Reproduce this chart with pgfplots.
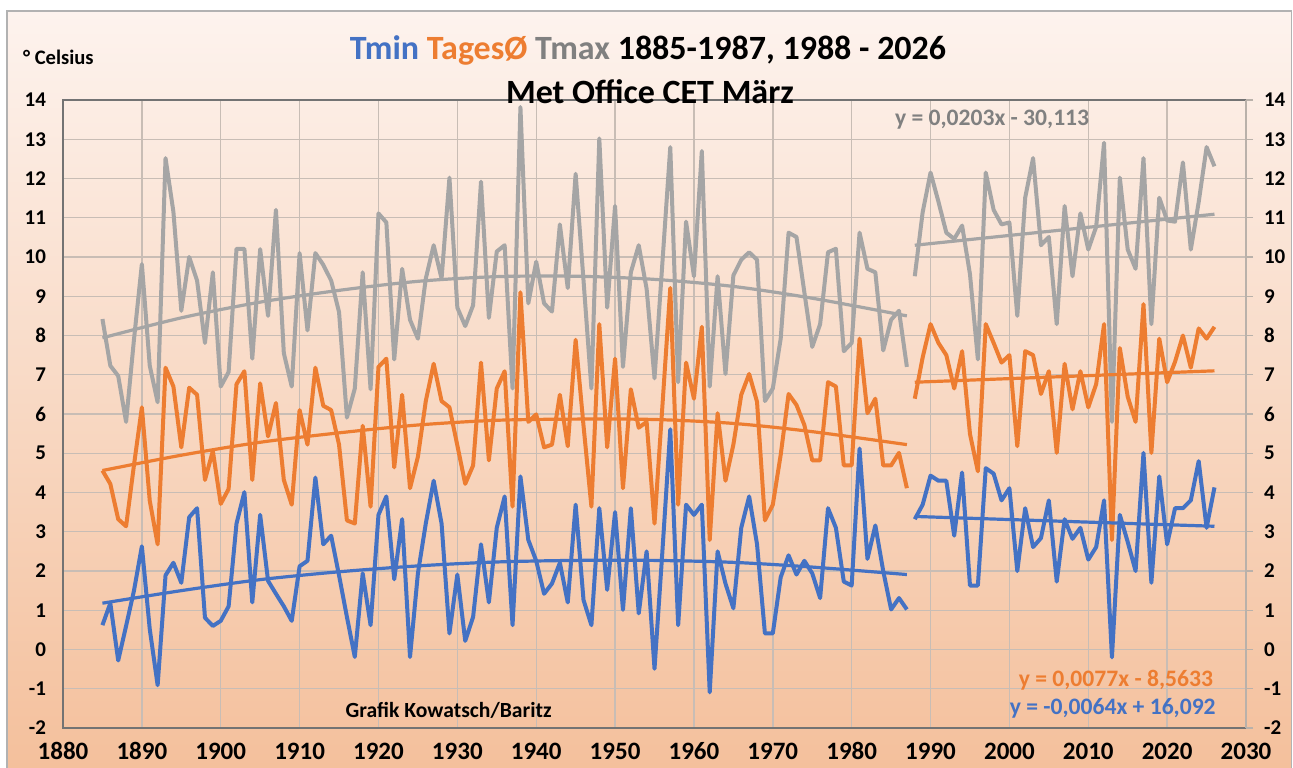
\documentclass[border=0pt]{standalone}
\usepackage{pgfplots}
\pgfplotsset{compat=1.18}
\usepackage{pgfplotstable}
\usepackage{fontspec}
\setmainfont{Carlito}
\definecolor{cblue}{HTML}{4472C4}
\definecolor{corange}{HTML}{ED7D31}
\definecolor{cgray}{HTML}{A5A5A5}
\definecolor{cgraytxt}{HTML}{808080}
\definecolor{bgtop}{HTML}{FDF3EE}
\definecolor{bgbot}{HTML}{F4C09C}
\definecolor{gridc}{HTML}{C8BDB5}

\pgfplotstableread{
year tmin tmean tmax
1885 0.62 4.56 8.42
1886 1.18 4.22 7.23
1887 -0.28 3.32 6.97
1888 0.6 3.14 5.80
1889 1.5 4.7 7.9
1890 2.63 6.17 9.82
1891 0.52 3.79 7.23
1892 -0.91 2.68 6.3
1893 1.89 7.18 12.52
1894 2.21 6.70 11.15
1895 1.70 5.15 8.63
1896 3.37 6.67 10.0
1897 3.60 6.49 9.4
1898 0.81 4.32 7.81
1899 0.60 5.06 9.61
1900 0.73 3.71 6.70
1901 1.10 4.09 7.07
1902 3.21 6.76 10.21
1903 4.01 7.09 10.21
1904 1.20 4.32 7.41
1905 3.43 6.78 10.2
1906 1.75 5.43 8.5
1907 1.42 6.28 11.2
1908 1.10 4.32 7.55
1909 0.73 3.69 6.70
1910 2.12 6.10 10.1
1911 2.26 5.22 8.13
1912 4.38 7.18 10.1
1913 2.68 6.21 9.8
1914 2.90 6.10 9.4
1915 1.89 5.22 8.6
1916 0.83 3.29 5.91
1917 -0.19 3.21 6.65
1918 1.94 5.70 9.61
1919 0.62 3.64 6.63
1920 3.43 7.20 11.11
1921 3.90 7.41 10.88
1922 1.79 4.64 7.39
1923 3.32 6.49 9.70
1924 -0.19 4.11 8.40
1925 1.94 4.91 7.92
1926 3.21 6.33 9.45
1927 4.30 7.28 10.3
1928 3.21 6.33 9.45
1929 0.41 6.17 12.02
1930 1.91 5.2 8.71
1931 0.22 4.22 8.24
1932 0.83 4.69 8.77
1933 2.68 7.31 11.92
1934 1.20 4.82 8.45
1935 3.10 6.65 10.14
1936 3.90 7.09 10.30
1937 0.62 3.64 6.65
1938 4.41 9.10 13.82
1939 2.79 5.80 8.82
1940 2.26 5.99 9.88
1941 1.42 5.15 8.82
1942 1.68 5.22 8.61
1943 2.21 6.49 10.83
1944 1.20 5.18 9.21
1945 3.69 7.89 12.12
1946 1.26 5.7 9.4
1947 0.62 3.64 6.65
1948 3.60 8.29 13.02
1949 1.52 5.15 8.71
1950 3.50 7.41 11.30
1951 1.01 4.11 7.2
1952 3.60 6.63 9.61
1953 0.92 5.65 10.30
1954 2.50 5.80 9.19
1955 -0.49 3.21 6.91
1956 2.5 6.2 9.85
1957 5.61 9.21 12.80
1958 0.62 3.69 6.81
1959 3.69 7.31 10.90
1960 3.43 6.39 9.51
1961 3.69 8.22 12.70
1962 -1.09 2.79 6.70
1963 2.50 6.02 9.51
1964 1.68 4.30 7.02
1965 1.05 5.22 9.53
1966 3.10 6.49 9.93
1967 3.90 7.02 10.12
1968 2.68 6.31 9.93
1969 0.41 3.29 6.33
1970 0.41 3.69 6.65
1971 1.84 4.96 7.92
1972 2.40 6.51 10.62
1973 1.91 6.23 10.51
1974 2.26 5.72 9.1
1975 1.94 4.82 7.71
1976 1.31 4.82 8.29
1977 3.60 6.81 10.12
1978 3.10 6.70 10.21
1979 1.73 4.69 7.60
1980 1.63 4.69 7.81
1981 5.12 7.92 10.62
1982 2.31 6.02 9.70
1983 3.16 6.39 9.61
1984 2.00 4.69 7.62
1985 1.02 4.69 8.40
1986 1.31 5.01 8.63
1987 1.02 4.11 7.20
}\tableA

\pgfplotstableread{
year tmin tmean tmax
1988 3.32 6.39 9.51
1989 3.69 7.44 11.14
1990 4.43 8.29 12.15
1991 4.30 7.81 11.41
1992 4.30 7.50 10.62
1993 2.90 6.65 10.46
1994 4.51 7.60 10.80
1995 1.63 5.49 9.56
1996 1.63 4.54 7.39
1997 4.62 8.29 12.15
1998 4.48 7.81 11.20
1999 3.80 7.31 10.83
2000 4.11 7.50 10.88
2001 2.00 5.18 8.50
2002 3.60 7.60 11.51
2003 2.61 7.50 12.52
2004 2.84 6.51 10.30
2005 3.80 7.09 10.51
2006 1.73 5.01 8.29
2007 3.32 7.28 11.30
2008 2.82 6.12 9.51
2009 3.10 7.09 11.11
2010 2.29 6.17 10.19
2011 2.61 6.76 10.77
2012 3.80 8.29 12.91
2013 -0.20 2.79 5.80
2014 3.43 7.68 12.02
2015 2.74 6.44 10.19
2016 2.00 5.80 9.70
2017 5.01 8.80 12.52
2018 1.70 5.01 8.29
2019 4.41 7.92 11.51
2020 2.68 6.81 10.93
2021 3.60 7.33 10.90
2022 3.60 8.00 12.41
2023 3.80 7.18 10.19
2024 4.80 8.18 11.4
2025 3.10 7.92 12.80
2026 4.13 8.22 12.31
}\tableB

\pgfplotstableread{
year tmin tmean tmax
1885 1.18 4.56 7.94
1895 1.50 4.95 8.45
1905 1.78 5.28 8.85
1915 1.98 5.52 9.15
1925 2.13 5.72 9.38
1935 2.23 5.84 9.50
1945 2.27 5.87 9.51
1955 2.27 5.86 9.43
1965 2.22 5.76 9.25
1975 2.10 5.55 8.95
1987 1.91 5.22 8.50
}\trendA

\pgfplotstableread{
year tmin tmean tmax
1988 3.39 6.81 10.30
2026 3.14 7.10 11.09
}\trendB

\begin{document}
\begin{tikzpicture}[x=1pt,y=1pt]
\fill[white] (0,0) rectangle (646.5,383.5);
\shade[top color=bgtop, bottom color=bgbot] (3.5,0) rectangle (645.8,378);
\draw[gray!60, line width=0.6pt] (3.5,-1) -- (3.5,378) -- (645.8,378) -- (645.8,-1);

\begin{axis}[
  at={(31.5pt,19.5pt)}, anchor=south west,
  scale only axis, width=591.5pt, height=314pt,
  xmin=1880, xmax=2030, ymin=-2, ymax=14,
  xtick={1880,1890,...,2030}, ytick={-2,-1,...,14},
  grid=major, major grid style={gridc, line width=0.7pt},
  axis line style={black!55, line width=0.7pt},
  tick style={draw=none},
  /pgf/number format/assume math mode=true,
  /pgf/number format/1000 sep={},
  xticklabel style={font=\bfseries\fontsize{12.5}{14}\selectfont, yshift=-3.8pt},
  yticklabel style={font=\bfseries\fontsize{10.5}{12}\selectfont, xshift=-5pt},
  clip=false,
]
\addplot[cgray, line width=2pt, line join=round] table[x=year,y=tmax] {\tableA};
\addplot[corange, line width=2pt, line join=round] table[x=year,y=tmean] {\tableA};
\addplot[cblue, line width=2pt, line join=round] table[x=year,y=tmin] {\tableA};
\addplot[cgray, line width=2pt, line join=round] table[x=year,y=tmax] {\tableB};
\addplot[corange, line width=2pt, line join=round] table[x=year,y=tmean] {\tableB};
\addplot[cblue, line width=2pt, line join=round] table[x=year,y=tmin] {\tableB};
\addplot[cgray, line width=1.6pt, smooth] table[x=year,y=tmax] {\trendA};
\addplot[corange, line width=1.6pt, smooth] table[x=year,y=tmean] {\trendA};
\addplot[cblue, line width=1.6pt, smooth] table[x=year,y=tmin] {\trendA};
\addplot[cgray, line width=1.6pt] table[x=year,y=tmax] {\trendB};
\addplot[corange, line width=1.6pt] table[x=year,y=tmean] {\trendB};
\addplot[cblue, line width=1.6pt] table[x=year,y=tmin] {\trendB};
\node[text=cgraytxt, font=\bfseries\fontsize{11.8}{13}\selectfont] at (axis cs:1997.8,13.49) {y = 0,0203x - 30,113};
\node[text=corange, font=\bfseries\fontsize{11.8}{13}\selectfont] at (axis cs:2013.5,-0.78) {y = 0,0077x - 8,5633};
\node[text=cblue, font=\bfseries\fontsize{11.8}{13}\selectfont] at (axis cs:2013.1,-1.49) {y = -0,0064x + 16,092};
\node[text=black, font=\bfseries\fontsize{10.8}{12}\selectfont] at (axis cs:1928.9,-1.54) {Grafik Kowatsch/Baritz};
\end{axis}

\begin{axis}[
  at={(31.5pt,19.5pt)}, anchor=south west,
  scale only axis, width=591.5pt, height=314pt,
  xmin=1880, xmax=2030, ymin=-2, ymax=14,
  axis x line=none, axis y line*=right,
  ytick={-2,-1,...,14},
  axis line style={gridc!80!gray, line width=0.7pt},
  tick align=outside, major tick length=3.5pt,
  tick style={gridc!80!gray, line width=0.7pt},
  /pgf/number format/assume math mode=true,
  yticklabel style={font=\bfseries\fontsize{10.5}{12}\selectfont, xshift=2pt},
]
\addplot[draw=none] coordinates {(1880,0)};
\end{axis}

\node[font=\bfseries\fontsize{17}{20}\selectfont] at (324,358.5) {{\color{cblue}Tmin} {\color{corange}TagesØ} {\color{cgraytxt}Tmax} 1885-1987, 1988 - 2026};
\node[font=\bfseries\fontsize{17}{20}\selectfont] at (325,337.5) {Met Office CET März};
\node[anchor=west, font=\bfseries\fontsize{10.3}{12}\selectfont] at (8,355) {° Celsius};
\pgfresetboundingbox
\useasboundingbox (0,0) rectangle (646.5,383.5);
\end{tikzpicture}
\end{document}
